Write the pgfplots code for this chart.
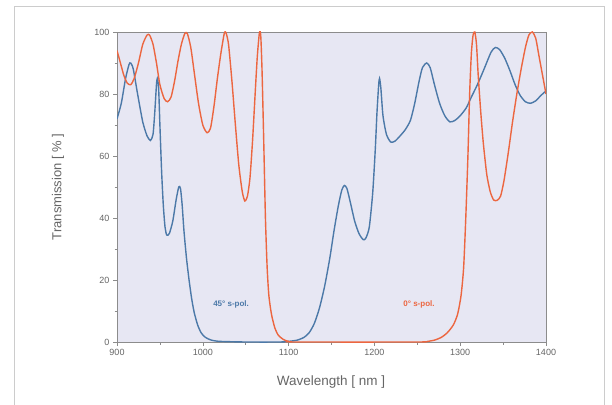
\documentclass[border=0pt]{standalone}
\usepackage{pgfplots}
\pgfplotsset{compat=1.18}
\usepackage{fontspec}
\setmainfont{Liberation Sans}
\definecolor{bluec}{HTML}{4C79A8}
\definecolor{redc}{HTML}{EC6640}
\definecolor{bgc}{HTML}{E7E7F3}
\definecolor{txt}{HTML}{666666}
\begin{document}
\begin{tikzpicture}[x=1pt,y=1pt]
\useasboundingbox (0,0) rectangle (612,404);
\fill[white] (0,0) rectangle (612,404);
\draw[black!20, line width=1pt] (14,-5) rectangle (604,397);
\begin{axis}[
  at={(117pt,62pt)}, anchor=south west,
  scale only axis, width=429pt, height=310pt,
  xmin=900, xmax=1400, ymin=0, ymax=100,
  axis background/.style={fill=bgc},
  axis line style={black!45, line width=0.8pt},
  xtick={900,1000,...,1400}, ytick={0,20,...,100},
  minor xtick={950,1050,...,1350}, minor ytick={10,30,...,90},
  tick align=outside, tick pos=left,
  major tick length=4pt, minor tick length=2.5pt,
  tick style={black!45, line width=0.6pt},
  every tick label/.append style={font=\fontsize{9}{10}\selectfont, text=txt},
  /pgf/number format/assume math mode=true,
  /pgf/number format/1000 sep={},
  xlabel={Wavelength [ nm ]}, ylabel={Transmission [ \% ]},
  xlabel style={font=\fontsize{13.5}{15}\selectfont, text=txt, at={(axis description cs:0.499,-0.128)}, anchor=center},
  ylabel style={font=\fontsize{13}{15}\selectfont, text=txt, at={(axis description cs:-0.1375,0.5)}, anchor=center, rotate=0},
  clip=true,
]
\addplot[bluec, line width=1.4pt, smooth, tension=0.4] coordinates {
(900,72) (905,77) (910,85) (914,89.5) (916,90) (919,88) (924,80) (930,71) (935,66.5) (939,65)
(942,67) (944,74) (946,83) (947,85) (948.5,82) (950,70) (952,55) (954,44) (956,37) (958,34.5)
(961,35) (965,39) (969,46) (972,50) (974,49.5) (976,44) (978,36) (981,27) (984,20) (987,14)
(990,9.5) (994,5.5) (998,3) (1003,1.5) (1010,0.6) (1020,0.2) (1050,0) (1090,0) (1100,0.2) (1110,0.6)
(1118,1.5) (1124,3) (1130,6) (1136,11) (1142,18) (1148,27) (1153,36) (1158,44) (1162,49) (1165,50.5)
(1168,49.5) (1172,45) (1177,39) (1182,35) (1187,33) (1190,33.5) (1194,37) (1198,48) (1201,62) (1203,74)
(1205,83) (1206,85) (1207.5,82) (1210,73) (1214,67) (1219,64.5) (1224,64.8) (1230,66.5) (1236,68.5) (1242,71.5)
(1247,77) (1252,84) (1256,88.5) (1261,90) (1265,88.5) (1270,83) (1276,77) (1282,73) (1288,71) (1294,71.5)
(1300,73) (1307,75.5) (1313,79) (1320,83) (1327,87.5) (1336,93.5) (1341,95) (1346,94.3) (1352,91.5) (1358,87.5)
(1364,83) (1370,79.5) (1376,77.5) (1382,77) (1388,77.8) (1394,79.5) (1400,81)
};
\addplot[redc, line width=1.4pt, smooth, tension=0.4] coordinates {
(900,94) (904,90) (908,86) (912,83.5) (916,83) (920,85) (925,90) (930,96) (935,99) (938,99)
(942,96) (946,90) (950,83) (955,78.5) (959,77.5) (963,79) (967,84) (971,90.5) (975,96) (979,99.5)
(982,99.5) (986,95) (990,87) (995,77) (1000,70) (1005,67.5) (1009,69) (1013,76) (1017,85) (1021,93)
(1025,99.5) (1027,99.8) (1030,96) (1034,84) (1038,70) (1042,57) (1046,48.5) (1049,45.5) (1052,47) (1055,53)
(1058,65) (1061,80) (1063.5,92) (1066,99.8) (1067.5,99) (1069,88) (1071,65) (1073,40) (1075,24) (1077,15)
(1080,9) (1084,4.5) (1088,2.2) (1094,0.8) (1100,0.2) (1110,0) (1250,0) (1262,0.2) (1270,0.6) (1278,1.5)
(1285,3) (1292,5.5) (1297,9) (1301,15) (1304,24) (1306.5,40) (1309,60) (1311,80) (1313,93) (1315,99)
(1317,100) (1319,96) (1321,86) (1324,74) (1327,64) (1331,54) (1335,48.5) (1339,45.8) (1343,45.7) (1347,47)
(1351,52) (1356,61) (1361,71) (1366,80) (1371,88) (1376,95) (1380,99) (1384,100) (1388,98) (1392,92)
(1396,86) (1400,80)
};
\node[bluec, font=\bfseries\fontsize{8}{9}\selectfont] at (axis cs:1033,12) {45° s-pol.};
\node[redc, font=\bfseries\fontsize{8}{9}\selectfont] at (axis cs:1252,12) {0° s-pol.};
\end{axis}
\end{tikzpicture}
\end{document}
